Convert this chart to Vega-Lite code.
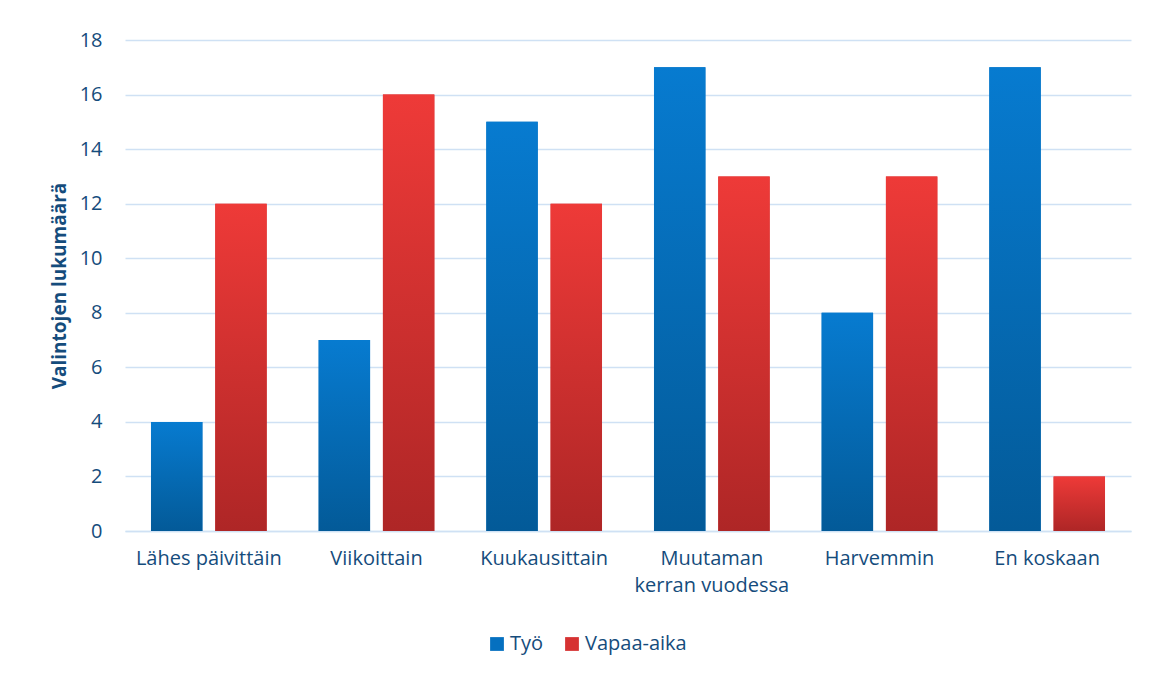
{
  "$schema": "https://vega.github.io/schema/vega-lite/v6.json",
  "width": 1006,
  "height": 491,
  "autosize": {"type": "none"},
  "padding": {"left": 125, "top": 40, "right": 20, "bottom": 144},
  "background": "white",
  "config": {
    "view": {"stroke": null},
    "font": "Open Sans",
    "axis": {"labelColor": "#154C7C", "titleColor": "#154C7C", "labelFont": "Open Sans", "titleFont": "Open Sans"},
    "legend": {"labelColor": "#154C7C", "labelFont": "Open Sans"}
  },
  "data": {
    "values": [
      {"freq": "Lähes päivittäin", "series": "Työ", "count": 4},
      {"freq": "Lähes päivittäin", "series": "Vapaa-aika", "count": 12},
      {"freq": "Viikoittain", "series": "Työ", "count": 7},
      {"freq": "Viikoittain", "series": "Vapaa-aika", "count": 16},
      {"freq": "Kuukausittain", "series": "Työ", "count": 15},
      {"freq": "Kuukausittain", "series": "Vapaa-aika", "count": 12},
      {"freq": "Muutaman kerran vuodessa", "series": "Työ", "count": 17},
      {"freq": "Muutaman kerran vuodessa", "series": "Vapaa-aika", "count": 13},
      {"freq": "Harvemmin", "series": "Työ", "count": 8},
      {"freq": "Harvemmin", "series": "Vapaa-aika", "count": 13},
      {"freq": "En koskaan", "series": "Työ", "count": 17},
      {"freq": "En koskaan", "series": "Vapaa-aika", "count": 2}
    ]
  },
  "encoding": {
    "x": {
      "field": "freq",
      "type": "nominal",
      "sort": null,
      "scale": {"paddingInner": 0.31, "paddingOuter": 0.155},
      "axis": {
        "title": null,
        "labelAngle": 0,
        "labelFontSize": 20,
        "labelPadding": 17,
        "ticks": false,
        "domain": true,
        "domainColor": "#CFE1F4",
        "domainWidth": 1.5,
        "labelLineHeight": 27,
        "labelExpr": "datum.label == 'Muutaman kerran vuodessa' ? ['Muutaman', 'kerran vuodessa'] : datum.label"
      }
    },
    "xOffset": {"field": "series", "type": "nominal", "scale": {"paddingInner": 0.2, "paddingOuter": 0}},
    "y": {
      "field": "count",
      "type": "quantitative",
      "scale": {"domain": [0, 18], "nice": false},
      "axis": {
        "title": "Valintojen lukumäärä",
        "titleFontSize": 19,
        "titleFontWeight": "bold",
        "titlePadding": 10,
        "labelFontSize": 20,
        "labelPadding": 23,
        "values": [0, 2, 4, 6, 8, 10, 12, 14, 16, 18],
        "ticks": false,
        "domain": false,
        "grid": true,
        "gridColor": "#CFE1F4",
        "gridWidth": 1.5
      }
    }
  },
  "layer": [
    {
      "mark": {"type": "bar"},
      "encoding": {
        "color": {
          "field": "series",
          "type": "nominal",
          "scale": {"domain": ["Työ", "Vapaa-aika"], "range": ["#0570C0", "#D63232"]},
          "legend": {
            "orient": "none",
            "legendX": 362,
            "legendY": 594,
            "direction": "horizontal",
            "title": null,
            "symbolType": "square",
            "symbolSize": 190,
            "symbolStrokeWidth": 0,
            "labelFontSize": 20,
            "labelOffset": 3,
            "columnPadding": 18
          }
        }
      }
    },
    {
      "transform": [{"filter": "datum.series == 'Työ'"}],
      "mark": {
        "type": "bar",
        "color": {
          "gradient": "linear", "x1": 0, "y1": 0, "x2": 0, "y2": 1,
          "stops": [{"offset": 0, "color": "#077BD0"}, {"offset": 1, "color": "#035A98"}]
        }
      }
    },
    {
      "transform": [{"filter": "datum.series == 'Vapaa-aika'"}],
      "mark": {
        "type": "bar",
        "color": {
          "gradient": "linear", "x1": 0, "y1": 0, "x2": 0, "y2": 1,
          "stops": [{"offset": 0, "color": "#EE3A38"}, {"offset": 1, "color": "#AE2626"}]
        }
      }
    }
  ]
}
